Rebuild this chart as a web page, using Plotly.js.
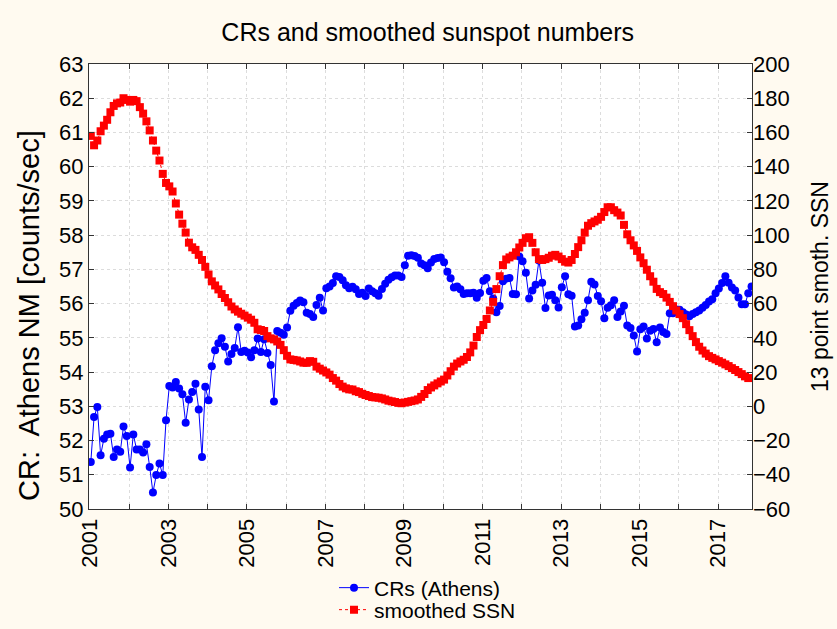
<!DOCTYPE html>
<html>
<head>
<meta charset="utf-8">
<script src="https://cdn.plot.ly/plotly-3.0.1.min.js"></script>
<style>
html,body{margin:0;padding:0;background:#fffaf0;}
#chart{width:837px;height:629px;}
</style>
</head>
<body>
<div id="chart"></div>
<script>
// Monthly series, first month = January 2001
const startYear = 2001;

const crAthens = [
51.37, 52.69, 52.98, 51.57, 52.05, 52.18, 52.20, 51.52, 51.74, 51.67,
52.41, 52.13, 51.21, 52.18, 51.74, 51.74, 51.65, 51.89, 51.23, 50.48,
50.99, 51.33, 50.99, 52.59, 53.59, 53.55, 53.71, 53.52, 53.35, 52.52,
53.20, 53.42, 53.66, 52.91, 51.52,
53.57, 53.18, 54.17, 54.64, 54.84, 54.99, 54.74, 54.31, 54.53, 54.70,
55.31, 54.59, 54.62, 54.57, 54.43, 54.64, 54.98, 54.59, 54.96, 54.56,
54.21, 53.14, 55.20, 55.15, 55.09, 55.30, 55.79, 55.94, 56.02, 56.09,
56.04,
55.73, 55.70, 55.61, 55.96, 56.17, 55.80, 56.45, 56.50, 56.60, 56.80,
56.78, 56.68, 56.54, 56.45, 56.49, 56.42, 56.28, 56.32, 56.22, 56.44,
56.36, 56.30, 56.23, 56.43, 56.58, 56.70, 56.77, 56.82, 56.82, 56.78,
57.12, 57.40, 57.41, 57.39, 57.34, 57.17,
57.12, 57.03, 57.20, 57.30, 57.33, 57.35, 57.21, 56.93, 56.74, 56.47,
56.50, 56.42, 56.28, 56.30, 56.30, 56.32, 56.17, 56.31, 56.67, 56.75,
56.36, 56.15, 55.75, 55.93, 56.65, 56.73, 56.75, 56.28, 56.27, 57.38,
57.24, 56.90,
56.15, 56.38, 56.55, 57.26, 56.61, 55.87, 56.24, 56.26, 56.10, 55.89,
56.48, 56.80, 56.27, 56.23, 55.33, 55.36, 55.54, 55.73, 56.10, 56.64,
56.56, 56.22, 56.07, 55.57, 55.88, 55.95, 56.10, 55.61, 55.77, 55.94,
55.36, 55.29, 55.07, 54.60, 55.25, 55.33, 54.98, 55.21, 55.26, 54.87,
55.30, 55.17, 55.11, 55.72, 55.72, 55.83, 55.82, 55.75, 55.68, 55.63,
55.70, 55.75, 55.80, 55.88, 55.96, 56.06, 56.13, 56.30, 56.44, 56.60,
56.80, 56.61, 56.47, 56.38, 56.18, 55.98, 55.98, 56.30, 56.50
];

const smoothedSSN = [
158, 152.5, 155.3, 160.7, 164, 167.4, 171.8, 175.5, 177, 177.5,
180, 179, 178, 179, 178.3, 174.8, 171, 166.5, 161.2, 155.3,
149.4, 143.6, 135.8, 130.5, 128.5, 125.5, 118.5, 112, 106.7, 101.5,
95.6, 92.9, 91.4,
88.5, 85.5, 81.5, 77, 73, 70.6, 68.3, 65.6, 63.3, 60.8,
58.3, 56.6, 55.3, 54.1, 53, 51.8, 50.6, 48.8, 45, 44.6,
44, 41, 39.7, 39.1, 37.9, 35.9, 32.8, 29.5, 27.4, 27.1,
26.8, 26.2, 25.5, 25.4,
26.4, 26, 23.2, 22.0, 20.9, 19.8, 18.5, 16.5, 15.0, 13.0,
11.5, 10.5, 9.9, 9.8, 8.8, 8.3, 7.3, 6.6, 6.0, 5.4,
5.2, 5.0, 4.6, 4.0, 3.3, 2.9, 2.5, 2.0, 1.8, 2.2,
2.6, 3.0, 3.4, 4.0, 5.5, 7.2, 9.5, 11.0, 12.2, 13.4,
14.5, 15.6, 18.0, 20.5, 23.2, 25.0, 26.2, 27.2, 28.8, 31.5,
35.5, 40.5, 44.5, 47.5, 51, 56, 61, 68.5, 76, 82.5,
85.8, 87, 88, 90, 92.8, 95.5, 98.2, 98.8,
95.5, 90, 86, 85.5, 86, 86.8, 88, 88.5, 87.5, 86,
84.5, 84, 85.5, 89, 93, 97, 101.5, 105.5, 107, 108,
109, 110.7, 113.5, 116.3, 116.3, 114.6, 113.2, 111.5, 106, 100.5,
97, 94, 90.8, 87, 83.6, 79.8, 76, 72.8, 68.6, 66.7,
65.6, 63.5, 61, 58.5, 56, 53.9, 51.5, 48, 44.5, 41,
37.5, 34.8, 32.6, 30.8, 29.3, 28.3, 27.4, 26.4, 25.5, 24.5,
23.5, 22.3, 21.2, 20, 18.8, 17.5, 16.5
];

const xTickVals = [2001,2002,2003,2004,2005,2006,2007,2008,2009,2010,2011,2012,2013,2014,2015,2016,2017];
const xTickText = ['2001','','2003','','2005','','2007','','2009','','2011','','2013','','2015','','2017'];

const monthPos = (arr) => arr.map((_, i) => startYear + (i + 0.25) / 12);

const FONT = 'Liberation Sans, Arial, sans-serif';

// plot area in pixels: left 89, right 752, top 64, bottom 509
const PLOT_L = 89, PLOT_R = 752, PLOT_T = 64, PLOT_B = 509, W = 837, H = 629;
const px = (pix) => (pix - PLOT_L) / (PLOT_R - PLOT_L);
const py = (pix) => (PLOT_B - pix) / (PLOT_B - PLOT_T);
const cy = (pix) => 1 - pix / H;

const traces = [
  {
    x: monthPos(crAthens), y: crAthens,
    name: 'CRs (Athens)', type: 'scatter', mode: 'lines+markers',
    line: {color: '#0000ff', width: 1},
    marker: {color: '#0000ff', size: 8, symbol: 'circle'},
    yaxis: 'y', legend: 'legend'
  },
  {
    x: monthPos(smoothedSSN), y: smoothedSSN,
    name: 'smoothed SSN', type: 'scatter', mode: 'lines+markers',
    line: {color: '#ff0000', width: 1, dash: 'dot'},
    marker: {color: '#ff0000', size: 8, symbol: 'square'},
    yaxis: 'y2', legend: 'legend2'
  }
];

const legendCommon = {
  xref: 'paper', yref: 'container', xanchor: 'left', yanchor: 'middle',
  bgcolor: 'rgba(0,0,0,0)', font: {size: 21, family: FONT, color: '#000'}
};

const layout = {
  width: W, height: H,
  paper_bgcolor: '#fffaf0', plot_bgcolor: '#ffffff',
  font: {family: FONT, color: '#000', size: 22},
  margin: {l: PLOT_L, r: W - PLOT_R, t: PLOT_T, b: H - PLOT_B},
  showlegend: true,
  title: {text: 'CRs and smoothed sunspot numbers', font: {family: FONT, size: 25, color: '#000'},
          x: 0.511, xanchor: 'center', y: 0.949, yanchor: 'middle'},
  xaxis: {
    range: [2000.975, 2017.866], tickmode: 'array', tickvals: xTickVals, ticktext: xTickText,
    tickangle: -90, ticks: 'inside', ticklen: 5, tickcolor: '#333',
    showline: true, linecolor: '#333', linewidth: 1, mirror: 'ticks',
    showgrid: true, gridcolor: '#dcdcdc', griddash: 'dot', gridwidth: 1,
    zeroline: false, tickfont: {size: 22}, automargin: false
  },
  yaxis: {
    range: [50, 63], dtick: 1, tick0: 50, ticks: 'inside', ticklen: 5, tickcolor: '#333',
    showline: true, linecolor: '#333', linewidth: 1, mirror: 'ticks',
    showgrid: true, gridcolor: '#dcdcdc', griddash: 'dot', gridwidth: 1,
    zeroline: false, tickfont: {size: 22}, automargin: false
  },
  yaxis2: {
    range: [-60, 200], dtick: 20, tick0: -60, overlaying: 'y', side: 'right',
    ticks: '', showline: false, showgrid: false, zeroline: false, tickfont: {size: 22},
    automargin: false,
    title: {text: '13 point smoth. SSN', font: {size: 23}, standoff: 22}
  },
  annotations: [{
    text: 'CR:  Athens NM [counts/sec]', xref: 'paper', yref: 'paper',
    x: px(29), y: py(316), xanchor: 'center', yanchor: 'middle',
    textangle: -90, showarrow: false, font: {size: 29, family: FONT, color: '#000'}
  }],
  legend: Object.assign({}, legendCommon, {x: px(334), y: cy(588)}),
  legend2: Object.assign({}, legendCommon, {x: px(334), y: cy(610)})
};

Plotly.newPlot('chart', traces, layout, {displayModeBar: false, staticPlot: true});
</script>
</body>
</html>
